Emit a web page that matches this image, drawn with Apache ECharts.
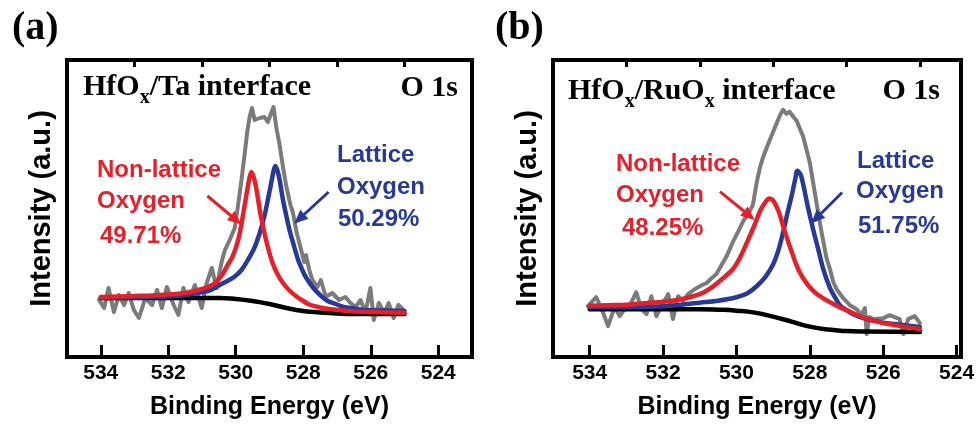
<!DOCTYPE html>
<html>
<head>
<meta charset="utf-8">
<title>O 1s XPS - HfOx interfaces</title>
<script src="https://cdn.jsdelivr.net/npm/echarts@6/dist/echarts.min.js"></script>
<style>
  html, body { margin: 0; padding: 0; background: #fff; }
  #chart { width: 979px; height: 425px; }
</style>
</head>
<body>
<div id="chart"></div>
<script type="text/javascript">
    // tick labels on the binding energy axis
    var majorTicks = [524, 526, 528, 530, 532, 534];
    var minorTicks = [525, 527, 529, 531, 533];

    // (a) HfOx/Ta interface - raw spectrum
    var taGreyEV = [534.05, 533.90, 533.77, 533.61, 533.46, 533.31, 533.17, 533.02, 532.87, 532.68, 532.48, 532.33, 532.19, 532.04, 531.84, 531.70, 531.55, 531.40, 531.21, 531.01, 530.86, 530.71, 530.57, 530.42, 530.32, 530.18, 530.03, 529.93, 529.83, 529.74, 529.66, 529.59, 529.52, 529.44, 529.29, 529.15, 529.05, 528.95, 528.88, 528.80, 528.71, 528.61, 528.51, 528.38, 528.31, 528.20, 528.10, 527.97, 527.92, 527.82, 527.73, 527.58, 527.48, 527.33, 527.14, 526.94, 526.75, 526.60, 526.45, 526.30, 526.16, 526.01, 525.91, 525.76, 525.60, 525.47, 525.32, 525.18, 525.03];
    var taGreyInt = [59, 51, 71, 47, 64, 54, 66, 49, 41, 61, 54, 69, 51, 72, 54, 44, 71, 57, 74, 51, 76, 91, 71, 97, 109, 119, 131, 154, 179, 204, 227, 242, 251, 239, 241, 242, 237, 246, 252, 232, 216, 194, 174, 154, 147, 127, 114, 97, 104, 89, 79, 72, 79, 62, 66, 59, 62, 56, 52, 59, 46, 71, 39, 56, 46, 56, 41, 54, 49];
    // (a) background
    var taBgEV = [534, 533, 532, 531, 530.5, 530, 529.5, 529, 528.5, 528, 527.5, 527, 526.5, 526, 525];
    var taBgInt = [61, 61, 61, 61, 61, 60, 58, 55, 51, 48, 46.5, 45.5, 45, 45, 45];
    // (a) non-lattice oxygen fit
    var taNonLatEV = [534.0, 533.0, 532.5, 532.0, 531.5, 531.0, 530.7, 530.55, 530.45, 530.35, 530.24, 530.1, 529.98, 529.88, 529.79, 529.69, 529.6, 529.54, 529.47, 529.4, 529.34, 529.29, 529.22, 529.15, 529.05, 528.91, 528.75, 528.6, 528.41, 528.2, 528.0, 527.82, 527.5, 527.24, 526.8, 526.45, 526.0, 525.5, 525.0];
    var taNonLatInt = [62, 63, 63.5, 64.5, 66, 70, 74, 78, 82, 87, 94, 102, 113, 126, 143, 163, 180, 187, 182, 172, 160, 149, 137, 126, 112, 96, 84, 76, 68.5, 62.5, 58, 54.5, 51.5, 50, 48.5, 47.5, 47, 46.6, 46.3];
    // (a) lattice oxygen fit
    var taLatEV = [534.0, 533.0, 532.0, 531.5, 530.9, 530.7, 530.5, 530.25, 530.03, 529.83, 529.64, 529.45, 529.29, 529.15, 529.05, 528.95, 528.88, 528.83, 528.77, 528.7, 528.6, 528.5, 528.4, 528.3, 528.15, 528.0, 527.9, 527.7, 527.5, 527.3, 527.0, 526.8, 526.5, 526.2, 525.5, 525.0];
    var taLatInt = [61, 61.5, 62.5, 64, 67.5, 69.5, 73.5, 78, 82.5, 89, 99, 111, 126, 143, 159, 176, 188, 193, 189, 179, 159, 143, 128, 116, 99, 87, 80.5, 71, 64, 58.5, 54.5, 52, 50.5, 49, 48.5, 48];

    // (b) HfOx/RuOx interface - raw spectrum
    var ruGreyEV = [534.05, 533.82, 533.64, 533.50, 533.32, 533.18, 533.05, 532.86, 532.73, 532.59, 532.45, 532.32, 532.18, 532.05, 531.86, 531.73, 531.59, 531.46, 531.32, 531.14, 530.95, 530.82, 530.68, 530.55, 530.41, 530.27, 530.09, 529.95, 529.82, 529.64, 529.55, 529.45, 529.36, 529.27, 529.09, 528.91, 528.82, 528.73, 528.64, 528.55, 528.45, 528.36, 528.18, 528.00, 527.82, 527.68, 527.55, 527.45, 527.36, 527.27, 527.09, 526.91, 526.73, 526.59, 526.50, 526.45, 526.38, 526.27, 526.00, 525.82, 525.55, 525.45, 525.32, 525.14, 525.00];
    var ruGreyInt = [53, 62, 47, 33, 52, 43, 50, 57, 67, 50, 45, 63, 43, 53, 65, 40, 63, 58, 65, 70, 74, 76, 81, 85, 94, 103, 118, 128, 138, 148, 155, 177, 192, 203, 220, 236, 244, 250, 246, 248, 243, 239, 223, 197, 157, 127, 102, 90, 77, 70, 61, 54, 50, 44, 51, 25, 42, 40, 41, 44, 40, 25, 40, 43, 36];
    // (b) background
    var ruBgEV = [534, 533, 532, 531, 530.5, 530, 529.5, 529, 528.5, 528, 527.5, 527, 526.5, 525];
    var ruBgInt = [50, 50, 50, 50, 49.5, 48.5, 46.5, 42.5, 37.5, 32.5, 29.5, 28, 27.5, 27];
    // (b) non-lattice oxygen fit
    var ruNonLatEV = [534.0, 533.5, 533.0, 532.5, 532.0, 531.5, 531.0, 530.7, 530.4, 530.1, 529.9, 529.7, 529.5, 529.35, 529.2, 529.12, 529.0, 528.85, 528.7, 528.5, 528.35, 528.2, 528.0, 527.8, 527.55, 527.3, 527.0, 526.5, 526.0, 525.5, 525.0];
    var ruNonLatInt = [53.5, 54, 54.5, 56, 57.5, 60, 65, 71, 80, 90, 102, 118, 135, 149, 158, 161, 159, 148, 130, 108, 93, 82, 72, 65, 59, 54, 49, 41, 36, 33, 30];
    // (b) lattice oxygen fit
    var ruLatEV = [534.0, 533.0, 532.3, 531.5, 531.0, 530.5, 530.0, 529.7, 529.45, 529.2, 529.0, 528.85, 528.73, 528.6, 528.5, 528.4, 528.34, 528.25, 528.18, 528.05, 527.91, 527.77, 527.64, 527.45, 527.3, 527.18, 527.0, 526.82, 526.5, 526.27, 526.0, 525.55, 525.0];
    var ruLatInt = [52, 52, 52.5, 54.5, 56.5, 58.5, 62, 66, 73, 83, 95, 110, 127, 148, 163, 180, 189, 185, 175, 152, 130, 110, 91, 71, 61, 54, 49, 45, 40.5, 38.5, 36.5, 34.5, 32];

    // arrow annotations [eV, intensity] start -> tip
    var taNonLatArrow = [[530.84, 163], [529.99, 139]];
    var taLatArrow = [[527.25, 167], [528.12, 140]];
    var ruNonLatArrow = [[530.45, 168], [529.65, 144]];
    var ruLatArrow = [[527.12, 167], [527.83, 141]];

    var RED = '#e4202a';
    var BLUE = '#273a98';
    var GREY = '#7b7b7b';
    var SANS = '"Liberation Sans", Arial, Helvetica, sans-serif';
    var SERIF = '"Liberation Serif", "Times New Roman", serif';

    function pairs(xs, ys) {
        return xs.map(function (x, i) { return [x, ys[i]]; });
    }

    function curve(xs, ys, color, width, panel, smooth) {
        return {
            type: 'line',
            xAxisIndex: panel * 2,
            yAxisIndex: panel,
            data: pairs(xs, ys),
            showSymbol: false,
            symbol: 'none',
            smooth: smooth,
            lineStyle: { color: color, width: width, join: 'round', cap: 'round' },
            silent: true,
            animation: false
        };
    }

    function arrow(pts, color) {
        return [
            { coord: pts[0], lineStyle: { color: color, width: 3, type: 'solid' }, itemStyle: { color: color } },
            { coord: pts[1] }
        ];
    }

    function xAxes(panel, min, max) {
        return [{
            type: 'value', gridIndex: panel, min: min, max: max, inverse: true,
            axisLine: { show: false }, splitLine: { show: false },
            axisTick: { show: true, inside: true, length: 12, customValues: majorTicks,
                lineStyle: { color: '#000', width: 3 } },
            axisLabel: { show: true, customValues: majorTicks, margin: 6, fontSize: 21,
                color: '#000', fontFamily: SANS, fontWeight: 'bold' },
            name: 'Binding Energy (eV)', nameLocation: 'middle', nameGap: 38,
            nameTextStyle: { color: '#000', fontFamily: SANS, fontWeight: 'bold', fontSize: 25 }
        }, {
            type: 'value', gridIndex: panel, min: min, max: max, inverse: true,
            axisLine: { show: false }, splitLine: { show: false }, axisLabel: { show: false },
            axisTick: { show: true, inside: true, length: 7, customValues: minorTicks,
                lineStyle: { color: '#000', width: 3 } }
        }];
    }

    function yAxis(panel, min, max) {
        return {
            type: 'value', gridIndex: panel, min: min, max: max,
            axisLine: { show: false }, axisTick: { show: false },
            axisLabel: { show: false }, splitLine: { show: false },
            name: 'Intensity (a.u.)', nameLocation: 'middle', nameGap: 11,
            nameTextStyle: { color: '#000', fontFamily: SANS, fontWeight: 'bold', fontSize: 29 }
        };
    }

    function label(text, x, y, color, font, align) {
        return {
            type: 'text', x: x, y: y, silent: true,
            style: { text: text, fill: color, font: font,
                textAlign: align || 'left', textVerticalAlign: 'middle' }
        };
    }

    function title(text, x, y) {
        return {
            type: 'text', x: x, y: y, silent: true,
            style: {
                text: text, fill: '#000', textVerticalAlign: 'top',
                rich: {
                    m: { font: 'bold 30px ' + SERIF, lineHeight: 30, verticalAlign: 'top', fill: '#000' },
                    s: { font: 'bold 20px ' + SERIF, lineHeight: 20, verticalAlign: 'top',
                        padding: [16, 0, 0, 0], fill: '#000' }
                }
            }
        };
    }

    var annFont = 'bold 24px ' + SANS;

    var chart = echarts.init(document.getElementById('chart'));

    var option = {
        backgroundColor: '#fff',
        animation: false,
        grid: [
            { left: 67, top: 60, width: 405, height: 297, show: true,
              borderColor: '#000', borderWidth: 4, backgroundColor: 'transparent' },
            { left: 553, top: 60, width: 408, height: 298, show: true,
              borderColor: '#000', borderWidth: 4, backgroundColor: 'transparent' }
        ],
        xAxis: xAxes(0, 523, 535).concat(xAxes(1, 523.88, 535)),
        yAxis: [yAxis(0, 2, 299), yAxis(1, 2, 300)],
        series: [
            Object.assign(curve(taGreyEV, taGreyInt, GREY, 4, 0, false), {
                markLine: {
                    silent: true, animation: false,
                    symbol: ['none', 'triangle'], symbolSize: [12, 14],
                    label: { show: false },
                    data: [arrow(taNonLatArrow, RED), arrow(taLatArrow, BLUE)]
                }
            }),
            curve(taBgEV, taBgInt, '#000', 4.5, 0, 0.5),
            curve(taLatEV, taLatInt, BLUE, 4.5, 0, 0.3),
            curve(taNonLatEV, taNonLatInt, RED, 4.5, 0, 0.3),

            Object.assign(curve(ruGreyEV, ruGreyInt, GREY, 4, 1, false), {
                markLine: {
                    silent: true, animation: false,
                    symbol: ['none', 'triangle'], symbolSize: [12, 14],
                    label: { show: false },
                    data: [arrow(ruNonLatArrow, RED), arrow(ruLatArrow, BLUE)]
                }
            }),
            curve(ruBgEV, ruBgInt, '#000', 4.5, 1, 0.5),
            curve(ruLatEV, ruLatInt, BLUE, 4.5, 1, 0.3),
            curve(ruNonLatEV, ruNonLatInt, RED, 4.5, 1, 0.3)
        ],
        graphic: [
            label('(a)', 12, 29, '#000', 'bold 40px ' + SERIF),
            label('(b)', 495, 29, '#000', 'bold 40px ' + SERIF),

            title('{m|HfO}{s|x}{m|/Ta interface}', 83, 72),
            label('O 1s', 458, 88, '#000', 'bold 30px ' + SERIF, 'right'),
            title('{m|HfO}{s|x}{m|/RuO}{s|x}{m| interface}', 568, 76),
            label('O 1s', 940, 91, '#000', 'bold 30px ' + SERIF, 'right'),

            label('Non-lattice', 97, 170, RED, annFont),
            label('Oxygen', 97, 201, RED, annFont),
            label('49.71%', 100, 236, RED, annFont),
            label('Lattice', 337, 155, BLUE, annFont),
            label('Oxygen', 337, 187, BLUE, annFont),
            label('50.29%', 338, 219, BLUE, annFont),

            label('Non-lattice', 616, 164, RED, annFont),
            label('Oxygen', 616, 195, RED, annFont),
            label('48.25%', 622, 228, RED, annFont),
            label('Lattice', 857, 161, BLUE, annFont),
            label('Oxygen', 856, 191, BLUE, annFont),
            label('51.75%', 858, 226, BLUE, annFont)
        ]
    };

    chart.setOption(option);
</script>
</body>
</html>
